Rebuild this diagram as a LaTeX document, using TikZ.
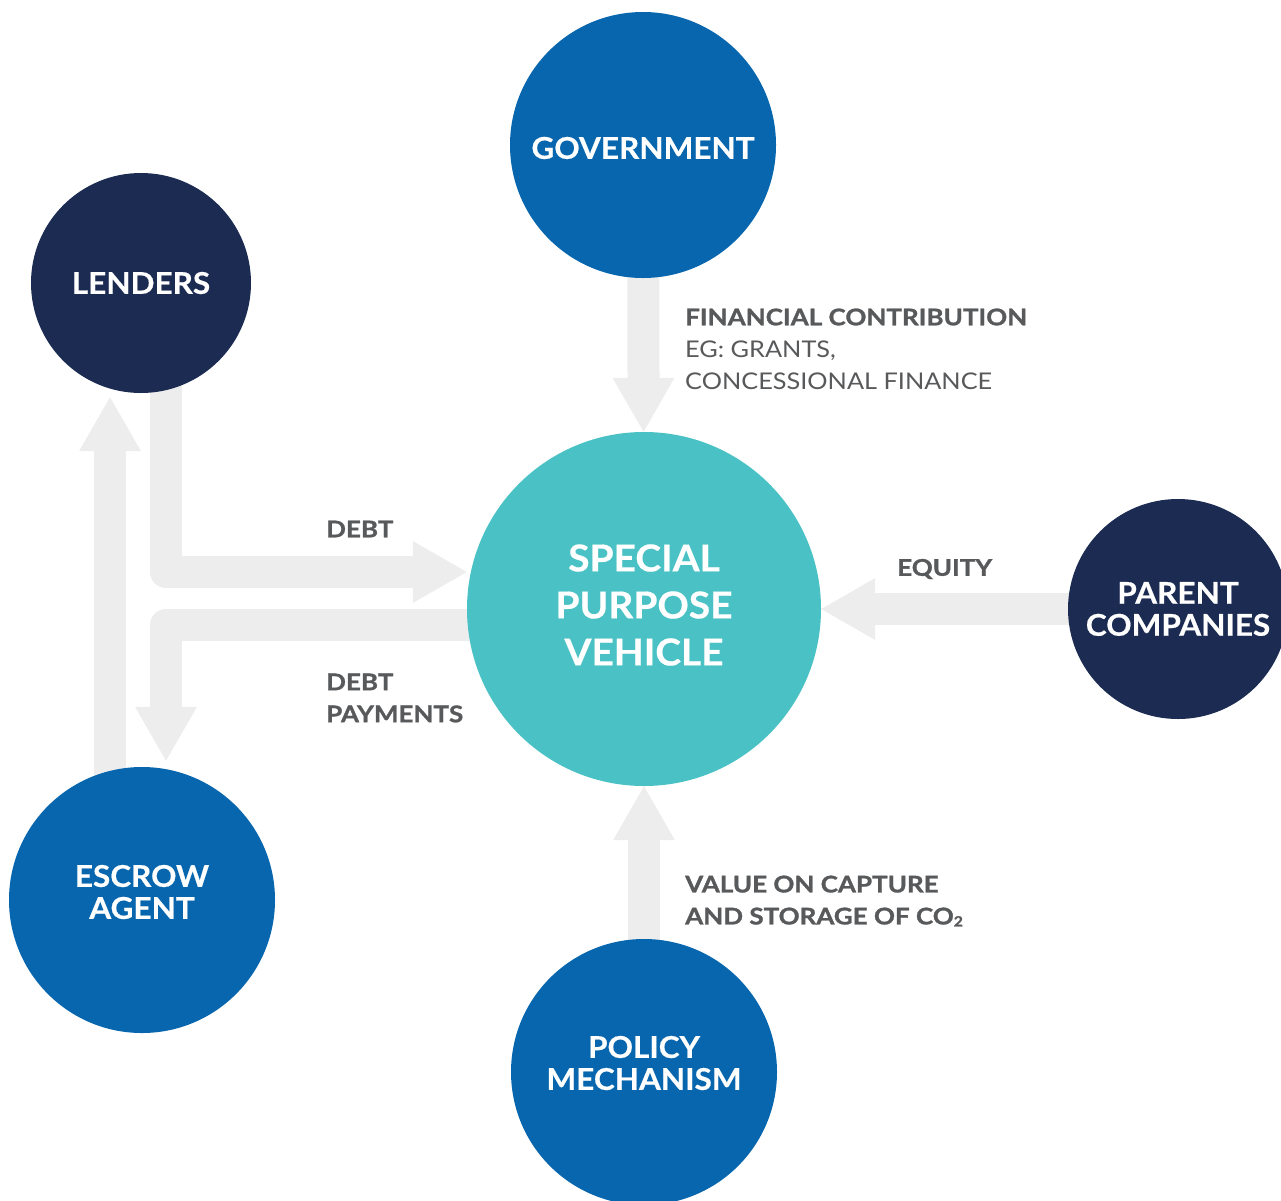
\documentclass[tikz,border=0pt]{standalone}
\usepackage{fontspec}
\setmainfont{Lato}
\newfontfamily\labfont{Lato}[FakeStretch=1.10, BoldFeatures={FakeStretch=1.13, FakeBold=1.2}]
\newfontfamily\hubfont{Lato}[BoldFeatures={FakeStretch=1.05, FakeBold=0.5}]
\usetikzlibrary{arrows.meta}
\pgfdeclarelayer{background}
\pgfsetlayers{background,main}
\definecolor{navy}{HTML}{1B2B51}
\definecolor{ccsblue}{HTML}{0766AD}
\definecolor{spvteal}{HTML}{4AC2C5}
\definecolor{arrowgrey}{HTML}{EDEDED}
\definecolor{labelgrey}{HTML}{58595B}
\begin{document}
\begin{tikzpicture}[x=1pt,y=-1pt,
  hub/.style={circle, inner sep=0pt, draw=none},
  hubtext/.style={inner sep=0pt, text=white, align=center, font=\hubfont\bfseries\fontsize{30}{32}\selectfont},
  spvtext/.style={inner sep=0pt, text=white, align=center, font=\hubfont\bfseries\fontsize{37}{47}\selectfont},
  flow/.style={draw=arrowgrey, line width=32pt, line join=round,
    -{Triangle[length=54pt,width=62pt,line width=0pt,fill=arrowgrey]}},
  lab/.style={inner sep=0pt, anchor=west, align=left, text=labelgrey, font=\labfont\bfseries\fontsize{23}{32}\selectfont},
  labreg/.style={inner sep=0pt, anchor=west, align=left, text=labelgrey, font=\labfont\fontsize{23}{32}\selectfont}]
\useasboundingbox (0,0) rectangle (1281,1200);
% circles
\node[hub, fill=ccsblue, minimum size=266pt] (gov) at (643,145) {};
\node[hub, fill=navy, minimum size=220pt] (lenders) at (141,283) {};
\node[hub, fill=spvteal, minimum size=354pt] (spv) at (644,609) {};
\node[hub, fill=navy, minimum size=220pt] (parent) at (1178,609) {};
\node[hub, fill=ccsblue, minimum size=266pt] (escrow) at (142,900) {};
\node[hub, fill=ccsblue, minimum size=266pt] (policy) at (644,1072) {};
% circle texts
\node[hubtext] (govtext) at ([yshift=-3pt]gov.center) {GOVERNMENT};
\node[hubtext] (lenderstext) at (lenders.center) {LENDERS};
\node[spvtext] (spvtext) at ([yshift=4pt]spv.center) {SPECIAL\\PURPOSE\\VEHICLE};
\node[hubtext] (parenttext) at (parent.center) {PARENT\\COMPANIES};
\node[hubtext] (escrowtext) at ([yshift=8pt]escrow.center) {ESCROW\\AGENT};
\node[hubtext] (policytext) at ([yshift=9pt]policy.center) {POLICY\\MECHANISM};
% flows
\begin{pgfonlayer}{background}
\draw[flow, shorten <=-6pt] (gov) -- (spv);
\draw[flow, shorten <=-6pt] (parent) -- (spv);
\draw[flow, shorten <=-6pt] (policy) -- (spv);
\draw[flow] ([xshift=25pt,yshift=10pt]lenders.south) |- ([yshift=37pt]spv.west);
\draw[flow] ([xshift=10pt,yshift=-16pt]spv.west) -| ([xshift=24pt,yshift=6pt]escrow.north);
\draw[flow] ([xshift=-32pt,yshift=-10pt]escrow.north) -- ([xshift=-31pt,yshift=-4pt]lenders.south);
\end{pgfonlayer}
% labels
\node[lab] (debtlab) at (326,529) {DEBT};
\node[lab] (dplab) at (326,698) {DEBT\\PAYMENTS};
\node[lab] (eqlab) at (897,569) {EQUITY};
\node[labreg] (finlab) at (685,349) {\textbf{FINANCIAL CONTRIBUTION}\\EG: GRANTS,\\CONCESSIONAL FINANCE};
\node[lab] (valuelab) at (685,901) {VALUE ON CAPTURE\\AND STORAGE OF CO\raisebox{-2pt}{\fontsize{14}{14}\selectfont 2}};
\end{tikzpicture}
\end{document}
